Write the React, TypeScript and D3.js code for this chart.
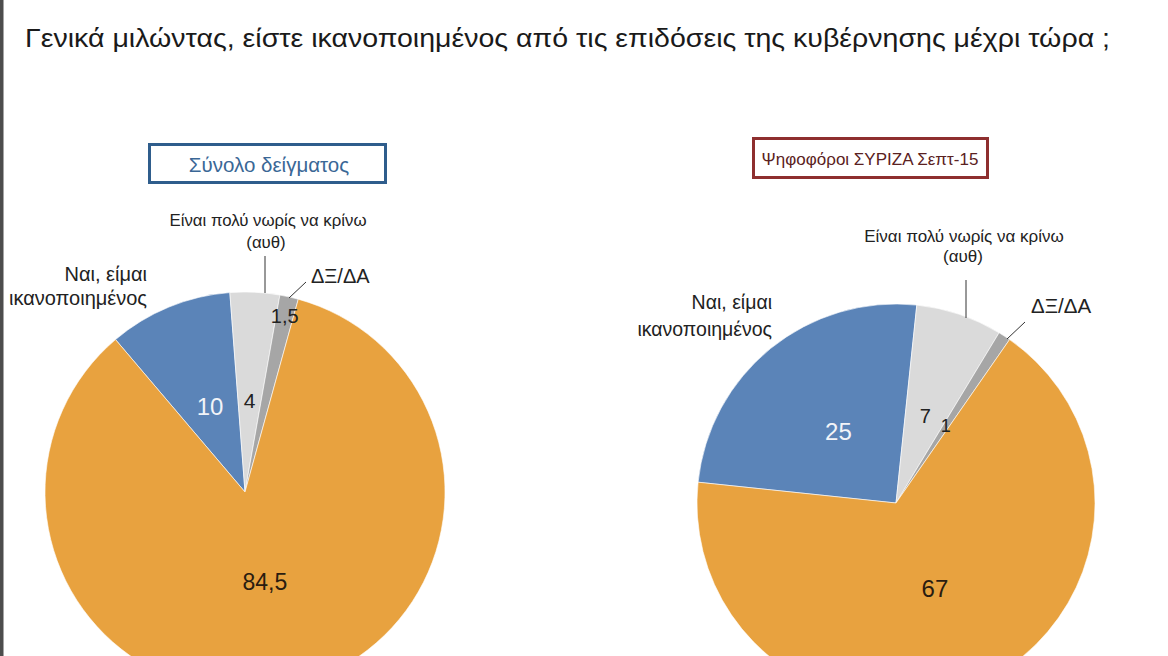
import React from "react";
import * as d3 from "d3";

// ---- data ----
const title = "Γενικά μιλώντας, είστε ικανοποιημένος από τις επιδόσεις της κυβέρνησης μέχρι τώρα ;";
const categories = ["Ναι, είμαι ικανοποιημένος", "Είναι πολύ νωρίς να κρίνω (αυθ)", "ΔΞ/ΔΑ", "Όχι"];
const panelTitles = ["Σύνολο δείγματος", "Ψηφοφόροι ΣΥΡΙΖΑ Σεπτ-15"];
const totalValues = [10, 4, 1.5, 84.5];
const syrizaValues = [25, 7, 1, 67];
const colors = ["#5b84b8", "#dadada", "#a6a6a6", "#e8a23f"];
const labelColors = ["#f2f4f8", "#222", "#222", "#2a1c10"];

const fmt = (v: number) => String(v).replace(".", ",");
const deg = (d: number) => (d * Math.PI) / 180;

const FONT = "'Liberation Sans', Arial, Helvetica, sans-serif";

type PieCfg = {
  values: number[];
  cx: number;
  cy: number;
  r: number;
  start: number;
  labelR: number[];
  labelSize: number[];
};

const pies: PieCfg[] = [
  { values: totalValues, cx: 245, cy: 492, r: 200, start: deg(-40.35), labelR: [0.46, 0.46, 0.9, 0.46], labelSize: [24, 21, 20, 23] },
  { values: syrizaValues, cx: 896, cy: 503, r: 199, start: deg(-84), labelR: [0.46, 0.46, 0.46, 0.47], labelSize: [24, 20, 18, 24] },
];

function Pie({ cfg }: { cfg: PieCfg }) {
  const pieGen = d3
    .pie<number>()
    .sort(null)
    .value((d) => d)
    .startAngle(cfg.start)
    .endAngle(cfg.start + 2 * Math.PI);
  const arcs = pieGen(cfg.values);
  const arc = d3.arc<d3.PieArcDatum<number>>().innerRadius(0).outerRadius(cfg.r);
  return (
    <g transform={`translate(${cfg.cx},${cfg.cy})`}>
      {arcs.map((a, i) => (
        <path key={i} d={arc(a) || ""} fill={colors[i]} stroke="#ffffff" strokeWidth={0.6} />
      ))}
      {arcs.map((a, i) => {
        const lr = cfg.r * cfg.labelR[i];
        const la = d3.arc<d3.PieArcDatum<number>>().innerRadius(lr).outerRadius(lr);
        const [x, y] = la.centroid(a);
        return (
          <text
            key={"l" + i}
            x={x}
            y={y}
            textAnchor="middle"
            dominantBaseline="central"
            fontSize={cfg.labelSize[i]}
            fill={labelColors[i]}
            fontFamily={FONT}
          >
            {fmt(a.data)}
          </text>
        );
      })}
    </g>
  );
}

export default function App() {
  const yesLines = ["Ναι, είμαι", "ικανοποιημένος"];
  const earlyLines = ["Είναι πολύ νωρίς να κρίνω", "(αυθ)"];
  return (
    <svg
      width={1168}
      height={656}
      style={{ position: "absolute", left: 0, top: 0, background: "#fff" }}
      fontFamily={FONT}
    >
      <rect x={0} y={0} width={1168} height={656} fill="#ffffff" />
      <rect x={0} y={0} width={3.5} height={656} fill="#4d4d4d" />

      <text x={25} y={47} fontSize={25} fill="#1a1a1a" textLength={1085} lengthAdjust="spacingAndGlyphs">
        {title}
      </text>

      {/* panel title boxes */}
      <rect x={149.5} y={144.5} width={236} height={38} fill="none" stroke="#2f5d8c" strokeWidth={3} />
      <text x={269} y={164} textAnchor="middle" dominantBaseline="central" fontSize={20.5} fill="#3a6796">
        {panelTitles[0]}
      </text>
      <rect x={753.5} y={138.5} width={234} height={39} fill="none" stroke="#8e2f2f" strokeWidth={3} />
      <text x={870} y={159} textAnchor="middle" dominantBaseline="central" fontSize={17} fill="#5a2121">
        {panelTitles[1]}
      </text>

      {pies.map((p, i) => (
        <Pie key={i} cfg={p} />
      ))}

      {/* annotations pie 1 */}
      <g fontSize={20} fill="#222" textAnchor="end">
        <text x={147} y={281}>{yesLines[0]}</text>
        <text x={147} y={305}>{yesLines[1]}</text>
      </g>
      <g fontSize={16.8} fill="#222" textAnchor="middle">
        <text x={268} y={226}>{earlyLines[0]}</text>
        <text x={266} y={248}>{earlyLines[1]}</text>
      </g>
      <line x1={265} y1={256} x2={265} y2={293} stroke="#333" strokeWidth={1} />
      <text x={311} y={283} fontSize={20} fill="#222">{categories[2]}</text>
      <line x1={306} y1={282} x2={289} y2={298} stroke="#333" strokeWidth={1} />

      {/* annotations pie 2 */}
      <g fontSize={19.5} fill="#222" textAnchor="end">
        <text x={772} y={309}>{yesLines[0]}</text>
        <text x={772} y={336}>{yesLines[1]}</text>
      </g>
      <g fontSize={17} fill="#222" textAnchor="middle">
        <text x={964} y={242}>{earlyLines[0]}</text>
        <text x={963} y={262}>{earlyLines[1]}</text>
      </g>
      <line x1={966} y1={280} x2={966} y2={318} stroke="#333" strokeWidth={1} />
      <text x={1031} y={313} fontSize={20.5} fill="#222">{categories[2]}</text>
      <line x1={1025} y1={322} x2={1007} y2={339} stroke="#333" strokeWidth={1} />
    </svg>
  );
}
